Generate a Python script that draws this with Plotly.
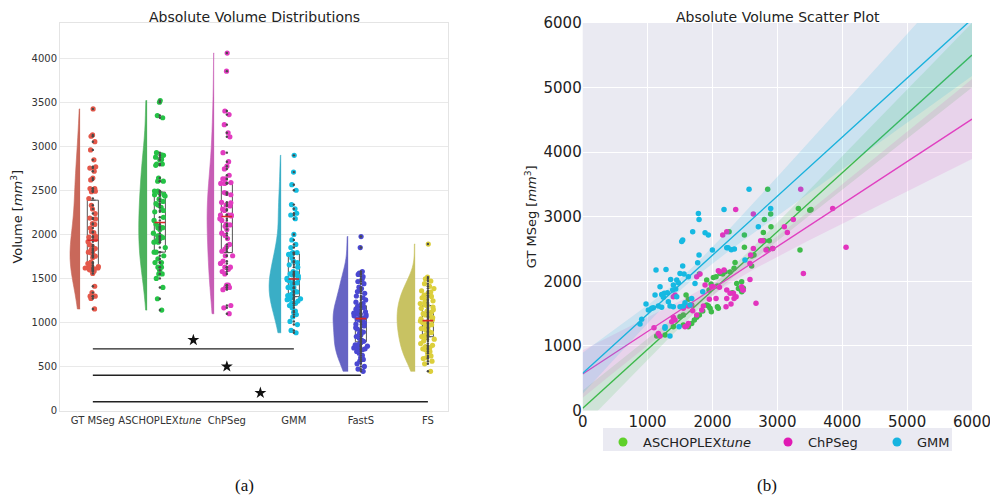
import numpy as np
import plotly.graph_objects as go

# ---------------- data ----------------
categories = ["GT MSeg", "ASCHOPLEX<i>tune</i>", "ChPSeg", "GMM", "FastS", "FS"]

gmm_x = [2564, 1783, 1793, 2178, 1695, 1541, 1526, 1886, 1937, 1999, 2220, 2240, 2338, 1793, 1772,
         1130, 1284, 1541, 1500, 1562, 1356, 1449, 1474, 1628, 1731, 1192, 1397, 1305, 1258, 1217,
         1387, 1433, 1850, 1115, 1680, 1577, 1346, 1397, 1166, 1217, 1089, 1012, 1063, 976, 1500,
         1269, 1268, 1485, 909, 883, 1654, 1551, 1449, 1320, 1243, 2897, 2707, 2501, 1345, 2290]
gmm_y = [3424, 3052, 2959, 3114, 2768, 2639, 2618, 2753, 2717, 2484, 2520, 2520, 2500, 2407, 2288,
         2175, 2185, 2237, 2123, 2113, 2030, 2020, 1979, 2072, 1968, 1917, 1943, 1824, 1814, 1798,
         1865, 1881, 1839, 1788, 1736, 1669, 1618, 1607, 1618, 1597, 1592, 1556, 1582, 1648, 1607,
         1298, 1272, 1298, 1411, 1339, 1633, 1618, 1762, 1684, 1752, 3129, 2846, 2330, 1153, 2490]

asc_x = [2256, 2492, 2492, 2348, 2333, 2014, 2055, 2117, 2158, 2194, 2271, 1798, 1911, 1978, 2076,
         1947, 2374, 2400, 2435, 2451, 2307, 2076, 2091, 1963, 1937, 1911, 1983, 1850, 1798, 1757,
         1721, 1680, 1551, 1628, 1551, 1500, 1397, 1140, 1269, 1593, 1628, 1680, 2851, 3324, 3519,
         3500, 2897, 2799, 2902, 2784, 2799, 2876, 2928, 2846, 2640, 2604, 2604, 3349, 2450, 2475]
asc_y = [2768, 2717, 2526, 2293, 2201, 2061, 2072, 2123, 2113, 2149, 2144, 2113, 2020, 1958, 1927,
         1865, 1968, 1890, 1875, 1839, 1824, 1607, 1582, 1582, 1618, 1633, 1530, 1540, 1478, 1442,
         1401, 1349, 1323, 1298, 1478, 1453, 1298, 1153, 1169, 1788, 1721, 1633, 3424, 3129, 3114,
         3100, 3042, 2959, 2846, 2758, 2629, 2629, 2510, 2495, 2407, 2392, 2237, 2484, 1994, 1891]

chp_x = [2358, 2158, 2220, 2091, 2117, 2178, 1757, 1808, 1886, 2107, 1988, 2220, 2271, 2323, 2364,
         2333, 2055, 2220, 2209, 2286, 1628, 1670, 1397, 1423, 1551, 1695, 1397, 1423, 1372, 1757,
         1628, 1603, 1577, 1192, 1166, 1099, 1834, 1860, 1952, 2014, 2466, 3360, 2630, 3246, 3108,
         3154, 3853, 2743, 2774, 2825, 2928, 2630, 2588, 2578, 4059, 2578, 3401, 2450, 2475, 2671]
chp_y = [3114, 2717, 2768, 2164, 2149, 2175, 2072, 2113, 1943, 1907, 1917, 1865, 1814, 1814, 1762,
         1736, 1736, 1736, 1607, 1648, 1618, 1633, 1762, 1788, 1582, 1546, 1442, 1401, 1375, 1478,
         1349, 1308, 1298, 1153, 1194, 1282, 1556, 1618, 1721, 1917, 1865, 3424, 3042, 2959, 2846,
         2758, 3129, 2629, 2629, 2484, 2510, 2510, 2407, 2278, 2526, 2030, 2123, 1917, 1865, 1659]

fasts_vals = [1975, 1850, 1578, 1560, 1545, 1520, 1490, 1465, 1440, 1400, 1385, 1370, 1350, 1330,
              1300, 1280, 1255, 1230, 1215, 1200, 1185, 1170, 1150, 1135, 1120, 1110, 1105, 1100,
              1095, 1090, 1075, 1070, 1060, 1045, 1040, 1030, 1010, 995, 980, 960, 940, 925, 905,
              890, 870, 860, 840, 820, 800, 785, 770, 750, 745, 735, 730, 720, 710, 700, 690, 690,
              670, 650, 625, 600, 580, 560, 530, 500, 470, 445]
fs_vals = [1890, 1515, 1495, 1470, 1440, 1410, 1385, 1360, 1345, 1330, 1310, 1295, 1280, 1260,
           1245, 1230, 1215, 1200, 1190, 1175, 1160, 1145, 1130, 1115, 1100, 1085, 1070, 1055,
           1040, 1030, 1015, 1000, 990, 975, 960, 945, 930, 915, 900, 885, 870, 855, 840, 825,
           810, 790, 760, 740, 725, 710, 700, 690, 670, 650, 620, 600, 590, 560, 530, 445]

box_q1 = [1608, 1798, 1793, 1293, 780, 838]
box_median = [1934, 2134, 2202, 1494, 1043, 1020]
box_q3 = [2388, 2480, 2582, 1778, 1190, 1191]

sig_from = [0, 0, 0]
sig_to = [3, 4, 5]
sig_y = [700, 400, 100]
star_y = [800, 500, 200]

series_names = ["ASCHOPLEX<i>tune</i>", "ChPSeg", "GMM"]
fit_intercept = [34, 565, 576]
fit_slope = [0.9115, 0.658, 0.914]
ci_center_x = [2100, 2200, 1550]
ci_center_hw = [80, 90, 90]
ci_end_hw = [500, 620, 880]

# ---------------- style ----------------
violin_fill = ["#c9685a", "#4cb25c", "#c75db5", "#3aaec6", "#6664c4", "#c8c262"]
point_col = ["#e4584a", "#25c246", "#e23cc0", "#14bde0", "#4a48d2", "#dccf3c"]
violin_w = [0.30, 0.25, 0.21, 0.36, 0.45, 0.54]
scat_col = ["#3fbb4a", "#e234be", "#16b9e2"]
line_col = ["#3cb84a", "#e040c0", "#1ab2dc"]
band_col = ["rgba(70,190,80,0.16)", "rgba(225,60,190,0.13)", "rgba(30,180,225,0.15)"]
legend_col = ["#5fd02a", "#e01ab4", "#17b4e0"]
legend_ids = ["legend", "legend2", "legend3"]
legend_px = [603, 768, 877]

columns = [gmm_y, asc_x, chp_x, gmm_x, fasts_vals, fs_vals]

fig = go.Figure()

# ---- left panel ----
for i, vals in enumerate(columns):
    fig.add_trace(go.Violin(
        x=[i - 0.19] * len(vals), y=vals, side="negative", width=violin_w[i],
        spanmode="hard", points=False, fillcolor=violin_fill[i],
        line=dict(color=violin_fill[i], width=0.6), opacity=1, scalemode="width",
        showlegend=False, hoverinfo="skip", xaxis="x", yaxis="y"))

fig.add_trace(go.Box(
    x=list(range(len(categories))), q1=box_q1, median=box_median, q3=box_q3,
    lowerfence=box_q1, upperfence=box_q3, width=0.165,
    fillcolor="rgba(0,0,0,0)", line=dict(color="#555555", width=1),
    showlegend=False, hoverinfo="skip", xaxis="x", yaxis="y"))

for i, vals in enumerate(columns):
    fig.add_trace(go.Scatter(
        x=[i] * len(vals), y=vals, mode="markers",
        marker=dict(color="#4a4a4a", size=2.4), showlegend=False, hoverinfo="skip",
        xaxis="x", yaxis="y"))
    fig.add_trace(go.Box(
        x=[i] * len(vals), y=vals, boxpoints="all", jitter=1.0, pointpos=0, width=0.24,
        fillcolor="rgba(0,0,0,0)", line=dict(color="rgba(0,0,0,0)", width=0),
        marker=dict(color=point_col[i], size=5.2), showlegend=False, hoverinfo="skip",
        xaxis="x", yaxis="y"))

med_x, med_y = [], []
for i, m in enumerate(box_median):
    med_x += [i - 0.08, i + 0.08, None]
    med_y += [m, m, None]
fig.add_trace(go.Scatter(x=med_x, y=med_y, mode="lines", line=dict(color="#d62728", width=1.6),
                         showlegend=False, hoverinfo="skip", xaxis="x", yaxis="y"))

for a, b, yl, ys in zip(sig_from, sig_to, sig_y, star_y):
    fig.add_trace(go.Scatter(x=[a, b], y=[yl, yl], mode="lines",
                             line=dict(color="#222222", width=1.4),
                             showlegend=False, hoverinfo="skip", xaxis="x", yaxis="y"))
    fig.add_trace(go.Scatter(x=[(a + b) / 2], y=[ys], mode="markers",
                             marker=dict(symbol="star", size=9, color="#111111"),
                             showlegend=False, hoverinfo="skip", xaxis="x", yaxis="y"))

# ---- right panel ----
xs = np.linspace(0, 6000, 241)
pts = [(asc_x, asc_y), (chp_x, chp_y), (gmm_x, gmm_y)]
for k in range(3):
    kk = np.sqrt(ci_end_hw[k] ** 2 - ci_center_hw[k] ** 2) / (6000 - ci_center_x[k])
    hw = np.sqrt(ci_center_hw[k] ** 2 + (kk * (xs - ci_center_x[k])) ** 2)
    yfit = fit_intercept[k] + fit_slope[k] * xs
    fig.add_trace(go.Scatter(
        x=np.concatenate([xs, xs[::-1]]), y=np.concatenate([yfit + hw, (yfit - hw)[::-1]]),
        fill="toself", fillcolor=band_col[k], line=dict(width=0), mode="lines",
        showlegend=False, hoverinfo="skip", xaxis="x2", yaxis="y2"))
    fig.add_trace(go.Scatter(
        x=pts[k][0], y=pts[k][1], mode="markers", marker=dict(color=scat_col[k], size=5.5),
        showlegend=False, hoverinfo="skip", xaxis="x2", yaxis="y2"))
    fig.add_trace(go.Scatter(
        x=xs, y=yfit, mode="lines", line=dict(color=line_col[k], width=1.4),
        showlegend=False, hoverinfo="skip", xaxis="x2", yaxis="y2"))

for k in range(3):
    fig.add_trace(go.Scatter(
        x=[None], y=[None], mode="markers", name=series_names[k], legend=legend_ids[k],
        marker=dict(color=legend_col[k], size=9), xaxis="x2", yaxis="y2"))

ydom = [86.5 / 497, 474 / 497]
legend_common = dict(orientation="h", y=(497 - 427) / 497, xanchor="left", yanchor="top",
                     bgcolor="rgba(0,0,0,0)", font=dict(size=13, color="#222"))
fig.update_layout(
    width=990, height=497, margin=dict(l=0, r=0, t=0, b=0),
    plot_bgcolor="white", paper_bgcolor="white",
    boxmode="overlay", violinmode="overlay",
    font=dict(family="DejaVu Sans", color="#333333"),
    xaxis=dict(domain=[60 / 990, 448 / 990], range=[-0.49, 5.30], tickvals=list(range(6)),
               ticktext=categories, showgrid=False, zeroline=False, showline=True, mirror=True,
               linecolor="#e4e4e4", linewidth=1, tickfont=dict(size=10, color="#333"), ticks="",
               tickangle=0, automargin=False),
    yaxis=dict(domain=ydom, range=[0, 4400], tickvals=list(range(0, 4001, 500)),
               gridcolor="#e9e9e9", zeroline=False, showline=True, mirror=True,
               linecolor="#e4e4e4", linewidth=1, tickfont=dict(size=10, color="#333"),
               automargin=False,
               title=dict(text="Volume [<i>mm</i><sup>3</sup>]", font=dict(size=13, color="#222"),
                          standoff=5)),
    xaxis2=dict(domain=[582.7 / 990, 972 / 990], anchor="y2", range=[0, 6000], dtick=1000,
                gridcolor="white", gridwidth=1, zeroline=False, showline=False,
                tickfont=dict(size=15, color="#222"), ticks="", tickangle=0, automargin=False,
                ticklabeloverflow="allow"),
    yaxis2=dict(domain=ydom, anchor="x2", range=[0, 6000], dtick=1000,
                gridcolor="white", gridwidth=1, zeroline=False, showline=False,
                tickfont=dict(size=15, color="#222"), ticks="", automargin=False,
                ticklabeloverflow="allow",
                title=dict(text="GT MSeg [<i>mm</i><sup>3</sup>]", font=dict(size=13, color="#222"),
                           standoff=3)),
    legend=dict(x=legend_px[0] / 990, **legend_common),
    legend2=dict(x=legend_px[1] / 990, **legend_common),
    legend3=dict(x=legend_px[2] / 990, **legend_common),
    shapes=[dict(type="rect", xref="x2 domain", yref="y2 domain", x0=0, x1=1, y0=0, y1=1,
                 fillcolor="#EAEAF2", line=dict(width=0), layer="below"),
            dict(type="rect", xref="paper", yref="paper", x0=603 / 990, x1=952 / 990,
                 y0=(497 - 451) / 497, y1=(497 - 428) / 497,
                 fillcolor="#EAEAF2", line=dict(width=0), layer="below")],
    annotations=[
        dict(text="Absolute Volume Distributions", x=254 / 990, y=(497 - 17) / 497, xref="paper",
             yref="paper", xanchor="center", yanchor="middle", showarrow=False,
             font=dict(size=14, color="#222")),
        dict(text="Absolute Volume Scatter Plot", x=777.5 / 990, y=(497 - 17) / 497, xref="paper",
             yref="paper", xanchor="center", yanchor="middle", showarrow=False,
             font=dict(size=14, color="#222")),
        dict(text="(a)", x=244 / 990, y=(497 - 485) / 497, xref="paper", yref="paper",
             xanchor="center", yanchor="middle", showarrow=False,
             font=dict(size=17, family="Liberation Serif", color="#111")),
        dict(text="(b)", x=767 / 990, y=(497 - 485) / 497, xref="paper", yref="paper",
             xanchor="center", yanchor="middle", showarrow=False,
             font=dict(size=17, family="Liberation Serif", color="#111")),
    ],
)

fig.write_html("out.html", config={"displayModeBar": False},
               post_script="document.body.style.margin='0';document.body.style.overflow='hidden';")
